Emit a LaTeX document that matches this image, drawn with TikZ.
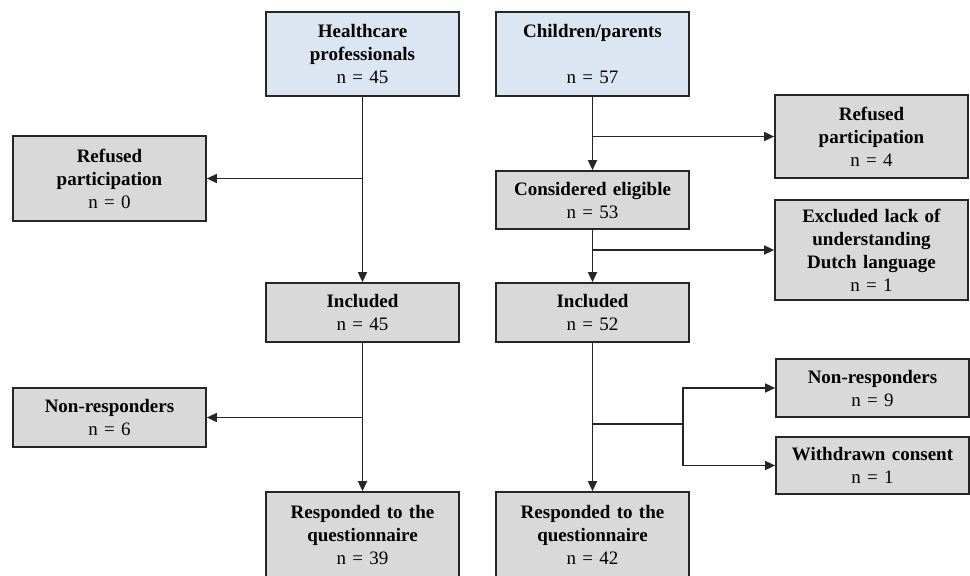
\documentclass[tikz,border=0pt]{standalone}
\usepackage{fontspec}
\setmainfont{Liberation Serif}
\usetikzlibrary{arrows.meta}
\definecolor{startblue}{RGB}{220,230,242}
\definecolor{boxgrey}{RGB}{217,217,217}
\begin{document}
\begin{tikzpicture}[x=1pt,y=1pt]
\tikzstyle{every node}+=[inner sep=0pt]
\tikzstyle{flowbox}=[draw=black!85, line width=1.7pt, fill=boxgrey, text width=193pt, align=center, font=\fontsize{19}{23}\selectfont]
\tikzstyle{startbox}=[flowbox, fill=startblue]
\tikzstyle{flow}=[draw=black!85, line width=1.5pt]
\tikzstyle{flowarrow}=[flow, -{Triangle[length=10pt,width=9pt]}]
\useasboundingbox (0,0) rectangle (970,-576);
\node [startbox, minimum height=84pt] (hp) at (362.5,-54) {\textbf{Healthcare}\\\textbf{professionals}\\n = 45};
\node [startbox, minimum height=84pt] (cp) at (592.5,-54) {\textbf{Children/parents}\\[23pt]n = 57};
\node [flowbox, minimum height=85pt] (refused1) at (109.5,-178.5) {\textbf{Refused}\\\textbf{participation}\\n = 0};
\node [flowbox, minimum height=83pt] (refused2) at (871.5,-136.5) {\textbf{Refused}\\\textbf{participation}\\n = 4};
\node [flowbox, minimum height=58pt] (eligible) at (592.5,-200) {\textbf{Considered eligible}\\n = 53};
\node [flowbox, minimum height=100pt] (excluded) at (871.5,-250) {\textbf{Excluded lack of}\\\textbf{understanding}\\\textbf{Dutch language}\\n = 1};
\node [flowbox, minimum height=59pt] (included1) at (362.5,-312.5) {\textbf{Included}\\n = 45};
\node [flowbox, minimum height=59pt] (included2) at (592.5,-312.5) {\textbf{Included}\\n = 52};
\node [flowbox, minimum height=59pt] (nonresp1) at (109.5,-417.5) {\textbf{Non-responders}\\n = 6};
\node [flowbox, minimum height=58pt] (nonresp2) at (872.5,-388) {\textbf{Non-responders}\\n = 9};
\node [flowbox, minimum height=57pt] (withdrawn) at (872.5,-465.5) {\textbf{Withdrawn consent}\\n = 1};
\node [flowbox, minimum height=86pt] (responded1) at (362.5,-535) {\textbf{Responded to the}\\\textbf{questionnaire}\\n = 39};
\node [flowbox, minimum height=86pt] (responded2) at (592.5,-535) {\textbf{Responded to the}\\\textbf{questionnaire}\\n = 42};
\coordinate (crsplit) at (683,-424);
\draw [flowarrow] (hp.south) -- (included1.north);
\draw [flowarrow] (hp.south |- refused1.east) -- (refused1.east);
\draw [flowarrow] (included1.south) -- (responded1.north);
\draw [flowarrow] (included1.south |- nonresp1.east) -- (nonresp1.east);
\draw [flowarrow] (cp.south) -- (eligible.north);
\draw [flowarrow] (cp.south |- refused2.west) -- (refused2.west);
\draw [flowarrow] (eligible.south) -- (included2.north);
\draw [flowarrow] (eligible.south |- excluded.west) -- (excluded.west);
\draw [flowarrow] (included2.south) -- (responded2.north);
\draw [flow] (included2.south |- crsplit) -- (crsplit);
\draw [flowarrow] (crsplit) |- (nonresp2.west);
\draw [flowarrow] (crsplit) |- (withdrawn.west);
\end{tikzpicture}
\end{document}
